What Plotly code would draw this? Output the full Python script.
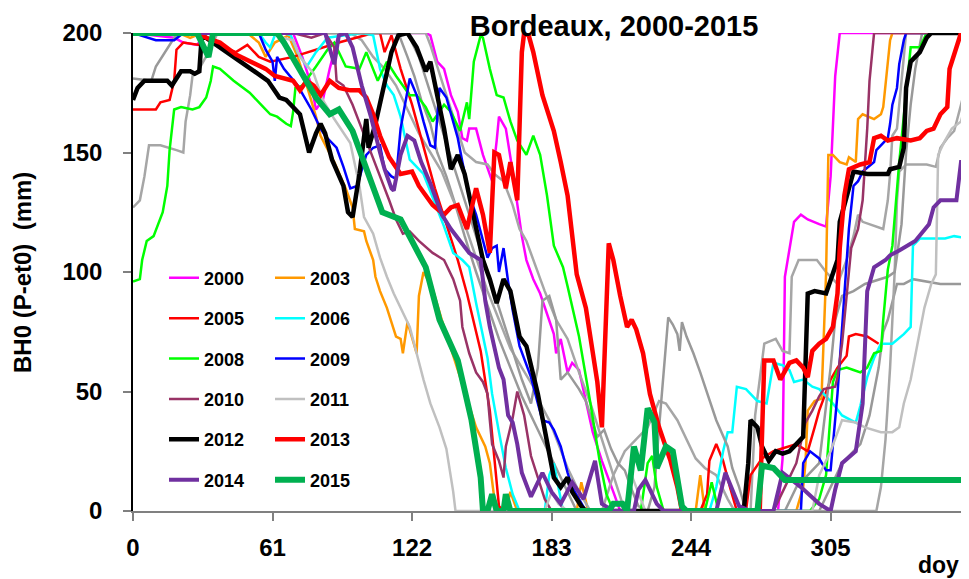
import plotly.graph_objects as go

# ---------------- data (day of year, BH0 in mm) ----------------
doy_2000 = [0,18,22,28,32,70,74,78,80,83,86,90,128,130,133,136,139,142,144,146,147,150,153,155,157,159,160,163,166,170,172,175,178,184,185,187,190,192,195,201,205,210,213,282,283,284,285,289,292,295,300,303,305,306,307,309,365]
bh0_2000 = [200,198,196,195,200,200,190,178,168,172,185,200,200,199,188,185,174,167,156,155,160,160,149,143,138,155,165,160,142,115,105,97,91,74,66,72,58,62,59,33,21,8,0,0,10,22,98,121,124,122,120,119,140,160,182,200,200]

doy_2001 = [0,3,5,7,12,16,19,22,23,25,26,29,33,37,128,130,135,140,145,150,155,158,162,166,169,172,175,180,185,190,195,200,205,210,215,270,272,276,281,284,287,288,291,299,303,308,312,315,317,319,328,330,331,332,334,336,338,365]
bh0_2001 = [127,130,140,153,153,152,151,150,163,174,182,185,192,200,200,195,180,165,150,146,145,141,138,128,118,113,105,92,80,72,58,45,30,15,0,0,40,70,72,67,66,98,105,105,100,95,105,115,124,121,118,130,141,157,160,180,200,200]

doy_2002 = [0,8,10,14,18,20,116,120,123,126,130,133,137,141,145,150,155,160,165,170,175,180,185,190,194,300,305,310,318,322,326,328,330,332,334,337,341,353,365]
bh0_2002 = [181,180,186,192,198,200,200,190,182,172,162,150,140,128,115,100,86,72,60,48,38,28,18,8,0,0,10,20,28,40,60,75,80,88,95,95,97,95,95]

doy_2003 = [0,20,25,30,50,55,58,62,68,72,76,80,82,88,93,96,97,101,102,105,106,108,111,115,117,118,120,122,124,125,127,131,135,140,145,150,154,156,158,160,163,165,168,194,196,199,246,248,250,290,293,294,295,298,301,302,303,304,306,309,312,313,316,317,319,324,327,328,330,331,332,365]
bh0_2003 = [200,200,198,200,200,196,190,196,199,190,178,165,157,146,135,127,118,117,113,105,98,92,85,73,72,66,79,73,66,90,100,93,80,65,50,35,27,20,5,0,0,8,0,0,12,0,0,15,0,0,10,20,42,46,47,70,99,149,149,146,145,148,146,164,166,164,166,169,188,197,200,200]

doy_2004 = [0,95,100,105,110,115,120,125,130,135,140,145,150,155,160,165,170,175,178,182,186,190,195,200,205,210,215,220,225,230,233,238,242,246,250,255,260,263,325,327,329,331,333,334,335,338,347,351,353,356,359,360,362,365]
bh0_2004 = [200,200,197,190,185,178,168,158,150,142,130,120,106,92,80,68,60,52,45,38,28,18,8,0,0,15,25,30,35,46,45,38,30,22,18,15,5,0,0,10,30,60,100,130,142,145,145,144,152,156,159,163,170,181]

doy_2005 = [0,10,12,16,18,19,22,29,31,35,40,45,50,55,60,70,90,105,108,110,113,117,122,127,132,137,142,146,152,156,159,160,162,248,251,252,255,258,261,264,268,270,275,280,290,295,298,300,305,308,312,313,316,321,326]
bh0_2005 = [168,168,171,172,180,193,196,195,198,197,194,192,195,190,188,190,196,200,200,192,199,185,170,152,135,120,105,91,67,42,14,2,0,0,7,21,28,21,10,0,0,15,22,25,28,25,35,42,55,60,65,73,74,73,70]

doy_2006 = [0,55,58,60,62,66,69,72,76,80,85,100,105,108,111,114,117,121,127,131,136,140,144,147,150,155,157,160,163,166,169,180,182,184,186,188,252,255,258,260,262,264,268,273,277,280,284,287,289,293,297,300,303,306,310,314,316,318,321,324,327,332,337,340,341,344,355,359,365]
bh0_2006 = [200,200,196,194,199,200,199,192,186,192,198,200,199,185,178,174,165,147,141,131,119,108,105,102,87,64,49,33,18,7,0,0,15,20,10,0,0,10,25,33,33,52,51,46,45,62,61,59,54,55,52,51,48,45,40,38,37,44,56,64,70,70,74,77,111,114,114,115,114]

doy_2007 = [0,120,125,130,135,140,145,150,155,160,165,170,174,177,179,182,185,187,190,195,198,201,203,206,209,212,215,218,221,225,228,230,232,234,236,238,239,240,242,245,248,251,255,260,262,265,268,285,290,300,305,307,310,315,320,330,333,336,338,340,342,345,365]
bh0_2007 = [200,200,190,175,160,145,130,115,100,85,70,55,45,60,88,90,80,55,58,51,46,37,31,34,26,20,17,9,2,0,10,35,60,81,78,74,67,79,73,66,58,49,38,27,18,10,0,0,10,20,60,80,90,92,95,98,100,120,150,170,185,200,200]

doy_2008 = [0,3,4,6,9,12,13,15,16,18,21,26,29,32,34,35,38,44,51,57,60,63,67,69,70,71,74,80,85,88,93,99,102,107,111,115,121,124,128,131,136,139,143,146,147,149,152,153,156,159,162,165,168,172,175,178,181,184,188,190,195,200,204,207,210,222,225,227,229,232,250,253,256,296,300,303,305,306,308,312,315,318,321,324,327,328,330,332,335,338,340,344,347,365]
bh0_2008 = [96,97,105,113,115,123,125,136,151,168,169,168,169,173,180,186,185,180,175,169,166,165,162,161,167,177,178,186,193,196,186,185,192,180,188,182,174,174,169,163,170,167,159,171,164,188,199,198,185,174,173,163,155,149,157,149,132,111,102,94,73,45,21,7,0,0,20,23,10,0,0,12,0,0,5,15,40,54,59,60,59,58,60,66,67,80,101,111,146,174,194,194,200,200]

doy_2009 = [0,10,18,22,55,58,61,62,63,66,72,78,82,84,89,92,95,98,101,102,105,108,110,113,115,117,121,124,127,130,132,134,137,142,144,147,150,155,157,159,160,162,164,166,169,174,177,179,182,184,187,190,192,195,198,292,293,296,300,303,305,308,310,312,313,315,317,319,324,325,327,330,331,332,334,335,337,338,365]
bh0_2009 = [200,197,197,200,200,193,188,180,190,185,178,168,160,157,152,144,135,136,146,149,152,153,143,140,139,160,181,174,163,153,152,177,173,156,146,132,124,106,110,111,100,110,96,84,69,56,45,38,37,34,27,16,10,5,0,0,20,25,22,17,17,49,77,101,118,136,138,142,146,151,153,156,162,170,177,187,197,200,200]

doy_2010 = [0,70,78,84,88,89,92,96,100,105,108,112,115,118,121,125,131,136,140,143,144,147,150,153,155,156,157,160,162,163,166,168,171,174,177,180,183,280,285,290,294,297,300,302,307,308,310,312,314,317,319,321,322,324,365]
bh0_2010 = [200,200,198,200,194,180,178,170,160,148,140,130,122,116,117,113,108,105,97,88,77,66,58,54,49,38,28,21,14,27,39,50,40,23,14,5,0,0,10,20,37,42,48,51,52,56,70,90,110,118,130,160,180,200,200]

doy_2011 = [0,60,65,70,73,79,83,88,95,99,101,105,108,111,114,121,127,130,134,137,140,141,180,183,186,190,215,218,220,224,297,300,305,310,316,320,327,332,335,337,340,343,346,349,351,352,355,358,362,365]
bh0_2011 = [200,200,198,197,190,183,172,164,154,136,123,116,106,98,91,77,55,45,35,26,8,0,0,8,3,0,0,15,10,0,0,15,25,38,37,35,33,33,35,45,55,70,85,95,99,149,155,160,163,174]

doy_2012 = [0,2,5,10,15,17,21,25,27,29,30,32,35,44,50,59,64,67,73,76,77,80,82,84,87,92,94,96,99,102,103,106,111,113,116,120,124,128,130,133,136,139,142,145,148,151,153,156,159,162,165,169,172,177,181,184,187,190,192,196,198,267,269,270,273,275,278,281,284,287,290,293,295,298,303,305,308,309,315,321,330,331,335,337,338,340,344,347,349,365]
bh0_2012 = [172,177,180,180,180,178,184,184,183,184,198,198,196,190,186,180,173,172,166,154,150,158,162,158,147,136,125,123,141,164,152,162,182,192,199,200,194,184,188,174,160,143,149,141,128,115,105,97,87,97,92,73,69,49,28,14,10,14,8,2,0,0,20,38,35,27,21,25,24,25,28,31,91,92,91,97,105,121,142,141,141,143,144,152,177,188,192,198,200,200]

doy_2013 = [0,28,32,38,45,52,58,62,66,70,73,76,79,82,86,90,95,99,102,105,108,112,117,122,125,131,136,139,142,146,150,153,156,158,160,163,165,168,170,171,173,175,179,184,187,190,194,198,203,205,208,210,213,216,218,220,223,226,230,235,238,240,274,276,280,283,287,290,293,295,297,300,303,306,308,309,311,313,318,322,324,327,330,334,340,344,347,350,353,356,357,360,362,365]
bh0_2013 = [200,200,198,196,191,188,185,182,181,180,176,180,178,174,180,177,176,176,173,166,157,148,141,142,136,128,124,127,128,118,135,124,108,150,149,135,146,130,192,200,199,192,174,159,146,132,99,85,54,35,112,105,90,77,80,76,66,49,35,21,10,0,0,63,63,55,62,63,60,56,67,70,72,77,91,110,132,143,145,146,156,157,155,156,155,156,159,160,166,169,185,194,200,200]

doy_2014 = [0,84,88,90,93,96,100,104,108,110,113,114,117,120,123,126,130,135,139,143,147,152,154,156,160,162,164,166,168,170,174,179,183,187,192,197,202,205,210,219,221,224,229,232,255,259,265,270,280,284,292,300,305,307,310,316,319,321,324,329,331,335,342,348,350,353,360,362,365]
bh0_2014 = [200,200,187,199,200,194,178,165,150,143,135,134,149,157,155,146,137,124,118,113,108,105,88,77,60,55,40,37,28,16,6,16,8,3,12,5,21,3,0,0,9,13,3,0,0,16,2,0,0,16,10,3,0,9,20,25,45,92,102,105,107,109,113,120,127,130,130,146,146]

doy_2015 = [0,28,30,33,35,63,66,73,80,86,90,96,102,107,109,117,122,128,134,142,148,152,153,155,157,159,162,163,165,208,210,214,216,219,222,225,228,229,233,236,240,242,273,275,280,285,365]
bh0_2015 = [200,200,196,190,200,200,196,185,173,166,168,159,144,130,125,122,113,102,80,63,38,14,0,0,7,0,0,7,0,0,3,3,0,27,17,43,37,18,27,25,2,0,0,19,18,13,13]

x_ticks = [0, 61, 122, 183, 244, 305]
y_ticks = [0, 50, 100, 150, 200]

# ---------------- styling ----------------
FONT = "Liberation Sans, Arial, sans-serif"
GRAY1 = "#A6A6A6"
GRAY2 = "#999999"

series = [
    ("2000", doy_2000, bh0_2000, "#FF00FF", 2.5, True, "legend"),
    ("2001", doy_2001, bh0_2001, GRAY1, 2.5, False, "legend"),
    ("2002", doy_2002, bh0_2002, GRAY2, 2.5, False, "legend"),
    ("2003", doy_2003, bh0_2003, "#FF9900", 2.5, True, "legend2"),
    ("2004", doy_2004, bh0_2004, GRAY1, 2.5, False, "legend"),
    ("2005", doy_2005, bh0_2005, "#FF0000", 2.5, True, "legend"),
    ("2006", doy_2006, bh0_2006, "#00FFFF", 2.5, True, "legend2"),
    ("2007", doy_2007, bh0_2007, GRAY2, 2.5, False, "legend"),
    ("2008", doy_2008, bh0_2008, "#00FF00", 2.5, True, "legend"),
    ("2009", doy_2009, bh0_2009, "#0000FF", 2.5, True, "legend2"),
    ("2010", doy_2010, bh0_2010, "#993366", 2.5, True, "legend"),
    ("2011", doy_2011, bh0_2011, "#C0C0C0", 2.5, True, "legend2"),
    ("2012", doy_2012, bh0_2012, "#000000", 4.5, True, "legend"),
    ("2013", doy_2013, bh0_2013, "#FF0000", 4.5, True, "legend2"),
    ("2014", doy_2014, bh0_2014, "#7030A0", 4, True, "legend"),
    ("2015", doy_2015, bh0_2015, "#00B050", 6, True, "legend2"),
]

fig = go.Figure()
for name, xs, ys, color, width, show, leg in series:
    fig.add_trace(go.Scatter(
        x=xs, y=ys, mode="lines", name=name,
        line=dict(color=color, width=width),
        showlegend=show, legend=leg, legendgroup=name,
        hoverinfo="skip",
    ))

legend_common = dict(
    bgcolor="rgba(0,0,0,0)", borderwidth=0,
    font=dict(family=FONT, size=18, color="black", weight="bold"),
    tracegroupgap=14, yanchor="top", xanchor="left",
)

# the page adds an 8 px body margin; the figure is sized to fit inside the visible window
PLOT_W = 828.0
fig.update_layout(
    width=953, height=571,
    margin=dict(l=125, r=0, t=25, b=68),
    paper_bgcolor="white", plot_bgcolor="white",
    title=dict(text="Bordeaux, 2000-2015", x=0.636, y=0.968, xanchor="center", yanchor="middle",
               font=dict(family=FONT, size=29, color="black", weight="bold")),
    legend=dict(x=(164 - 133) / PLOT_W, y=0.526, **legend_common),
    legend2=dict(x=(270 - 133) / PLOT_W, y=0.526, **legend_common),
    xaxis=dict(range=[0, 362], tickvals=x_ticks, ticktext=[str(t) for t in x_ticks],
               showgrid=False, zeroline=False, showline=True, linecolor="#808080", linewidth=1.5,
               ticks="outside", ticklen=8, tickcolor="#808080", tickwidth=1.5,
               tickfont=dict(family=FONT, size=24, color="black", weight="bold"),
               ticklabelstandoff=6),
    yaxis=dict(range=[0, 200], tickvals=y_ticks, ticktext=[str(t) for t in y_ticks],
               showgrid=False, zeroline=False, showline=True, linecolor="black", linewidth=1.5,
               ticks="outside", ticklen=8, tickcolor="#808080", tickwidth=1.5,
               tickfont=dict(family=FONT, size=24, color="black", weight="bold"),
               ticklabelstandoff=16),
    annotations=[
        dict(text="BH0 (P-et0)\u00a0\u00a0(mm)", textangle=-90, xref="paper", yref="paper",
             x=(22 - 133) / PLOT_W, y=0.5, xanchor="center", yanchor="middle", showarrow=False,
             font=dict(family=FONT, size=24, color="black", weight="bold")),
        dict(text="doy", xref="paper", yref="paper", x=1.0, y=-0.113, xanchor="right",
             yanchor="middle", showarrow=False,
             font=dict(family=FONT, size=23, color="black", weight="bold")),
    ],
)

fig.write_html("out.html")
